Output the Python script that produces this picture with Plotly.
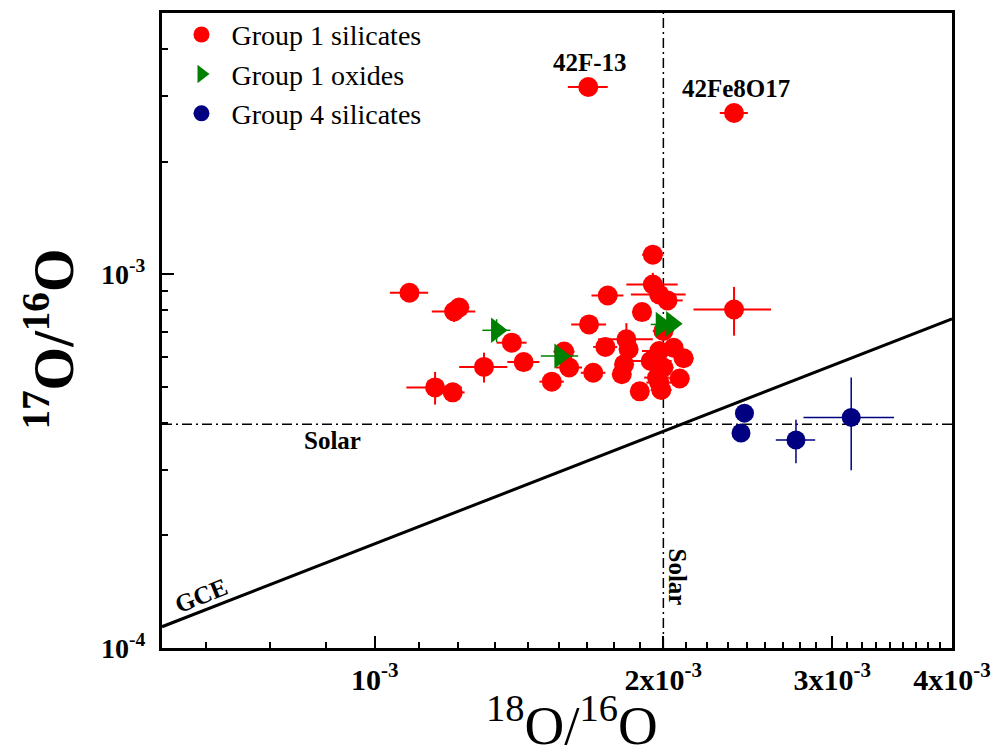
import math
import plotly.graph_objects as go

# ---------------- data ----------------
g1_sil_x = [1.67e-3, 2.37e-3, 1.087e-3, 1.21e-3, 1.225e-3, 1.39e-3, 1.43e-3, 1.30e-3, 1.156e-3, 1.206e-3,
            1.95e-3, 1.95e-3, 1.75e-3, 1.98e-3, 2.02e-3, 1.90e-3, 1.673e-3, 2.37e-3, 2.00e-3, 1.576e-3,
            1.83e-3, 1.74e-3, 1.84e-3, 1.98e-3, 2.05e-3, 2.10e-3, 1.595e-3, 1.82e-3, 1.94e-3, 2.00e-3,
            1.69e-3, 1.81e-3, 1.53e-3, 1.97e-3, 2.08e-3, 1.89e-3, 1.99e-3, 1.98e-3]
g1_sil_y = [3.17e-3, 2.70e-3, 8.92e-4, 7.95e-4, 8.15e-4, 6.56e-4, 5.82e-4, 5.65e-4, 4.98e-4, 4.83e-4,
            1.128e-3, 9.39e-4, 8.77e-4, 8.83e-4, 8.51e-4, 7.92e-4, 7.34e-4, 8.05e-4, 7.05e-4, 6.21e-4,
            6.70e-4, 6.39e-4, 6.30e-4, 6.23e-4, 6.36e-4, 5.96e-4, 5.63e-4, 5.74e-4, 5.86e-4, 5.63e-4,
            5.45e-4, 5.40e-4, 5.16e-4, 5.29e-4, 5.26e-4, 4.86e-4, 4.90e-4, 5.13e-4]
g1_sil_xerr = [0.08e-3, 0.08e-3, 0.05e-3, 0.063e-3, 0.03e-3, 0.05e-3, 0.055e-3, 0.075e-3, 0.077e-3, 0.035e-3,
               0.05e-3, 0.12e-3, 0.067e-3, 0.13e-3, 0.075e-3, 0.045e-3, 0.07e-3, 0.22e-3, 0.05e-3, 0.04e-3,
               0.12e-3, 0.05e-3, 0.04e-3, 0.08e-3, 0.04e-3, 0.05e-3, 0.05e-3, 0.04e-3, 0.10e-3, 0.05e-3,
               0.05e-3, 0.04e-3, 0.045e-3, 0.06e-3, 0.05e-3, 0.04e-3, 0.05e-3, 0.06e-3]
g1_sil_yerr = [0.04e-3, 0.04e-3, 0.02e-3, 0.05e-3, 0.02e-3, 0.02e-3, 0.033e-3, 0.052e-3, 0.05e-3, 0.015e-3,
               0.03e-3, 0.07e-3, 0.02e-3, 0.03e-3, 0.02e-3, 0.03e-3, 0.02e-3, 0.12e-3, 0.03e-3, 0.02e-3,
               0.07e-3, 0.02e-3, 0.02e-3, 0.03e-3, 0.02e-3, 0.02e-3, 0.02e-3, 0.02e-3, 0.02e-3, 0.02e-3,
               0.02e-3, 0.03e-3, 0.02e-3, 0.02e-3, 0.02e-3, 0.02e-3, 0.02e-3, 0.03e-3]

g1_oxi_x = [1.34e-3, 1.56e-3, 1.99e-3, 2.04e-3]
g1_oxi_y = [7.08e-4, 6.04e-4, 7.34e-4, 7.37e-4]
g1_oxi_xerr = [0.045e-3, 0.07e-3, 0.05e-3, 0.03e-3]
g1_oxi_yerr = [0.05e-3, 0.02e-3, 0.03e-3, 0.02e-3]

g4_sil_x = [2.43e-3, 2.41e-3, 2.75e-3, 3.14e-3]
g4_sil_y = [4.25e-4, 3.76e-4, 3.60e-4, 4.14e-4]
g4_sil_xerr = [0.04e-3, 0.04e-3, 0.13e-3, 0.34e-3]
g4_sil_yerr = [0.02e-3, 0.015e-3, 0.048e-3, 0.115e-3]

gce_x = [6.0e-4, 4.0e-3]
gce_y = [1.14e-4, 7.6e-4]

solar_18 = 2.0e-3
solar_17 = 3.97e-4

x_range = [6.0e-4, 4.0e-3]
y_range = [1.0e-4, 5.0e-3]

x_tickvals = [1e-3, 2e-3, 3e-3, 4e-3]
x_ticktext = ["<b>10<sup>-3</sup></b>", "<b>2x10<sup>-3</sup></b>", "<b>3x10<sup>-3</sup></b>", "<b>4x10<sup>-3</sup></b>"]
y_tickvals = [1e-4, 1e-3]
y_ticktext = ["<b>10<sup>-4</sup></b>", "<b>10<sup>-3</sup></b>"]

# minor ticks: 8 linear subdivisions between majors
x_minor = [k / 9 * 1e-3 for k in range(6, 36) if k % 9 != 0]
y_minor = [k * 1e-4 for k in range(2, 10)] + [2e-3, 3e-3, 4e-3]

FONT = "Liberation Serif"
DASHDOT = "10px,4px,2px,4px"

fig = go.Figure()

# GCE line
fig.add_trace(go.Scatter(x=gce_x, y=gce_y, mode="lines", line=dict(color="black", width=3),
                         showlegend=False, hoverinfo="skip"))
# Solar lines
fig.add_trace(go.Scatter(x=[solar_18, solar_18], y=y_range, mode="lines",
                         line=dict(color="black", width=1.5, dash=DASHDOT),
                         showlegend=False, hoverinfo="skip"))
fig.add_trace(go.Scatter(x=x_range, y=[solar_17, solar_17], mode="lines",
                         line=dict(color="black", width=1.5, dash=DASHDOT),
                         showlegend=False, hoverinfo="skip"))

fig.add_trace(go.Scatter(
    x=g1_sil_x, y=g1_sil_y, mode="markers", name="Group 1 silicates",
    marker=dict(symbol="circle", size=20, color="#ff0000"),
    error_x=dict(type="data", array=g1_sil_xerr, color="#ff0000", thickness=2, width=0),
    error_y=dict(type="data", array=g1_sil_yerr, color="#ff0000", thickness=2, width=0)))
fig.add_trace(go.Scatter(
    x=g1_oxi_x, y=g1_oxi_y, mode="markers", name="Group 1 oxides",
    marker=dict(symbol="triangle-right", size=22, color="#008000"),
    error_x=dict(type="data", array=g1_oxi_xerr, color="#008000", thickness=1.5, width=0),
    error_y=dict(type="data", array=g1_oxi_yerr, color="#008000", thickness=1.5, width=0)))
fig.add_trace(go.Scatter(
    x=g4_sil_x, y=g4_sil_y, mode="markers", name="Group 4 silicates",
    marker=dict(symbol="circle", size=19, color="#000080"),
    error_x=dict(type="data", array=g4_sil_xerr, color="#000080", thickness=1.5, width=0),
    error_y=dict(type="data", array=g4_sil_yerr, color="#000080", thickness=1.5, width=0)))

ann_font = dict(family=FONT, size=25, color="black")
annotations = [
    dict(x=math.log10(1.67e-3), y=math.log10(3.17e-3), text="<b>42F-13</b>", showarrow=False,
         yshift=24, xshift=2, font=ann_font),
    dict(x=math.log10(2.37e-3), y=math.log10(2.70e-3), text="<b>42Fe8O17</b>", showarrow=False,
         yshift=25, xshift=2, font=ann_font),
    dict(x=math.log10(8.9e-4), y=math.log10(solar_17), text="<b>Solar</b>", showarrow=False,
         yshift=-16, xshift=6, font=ann_font),
    dict(x=math.log10(solar_18), y=math.log10(1.55e-4), text="<b>Solar</b>", showarrow=False,
         xshift=14, textangle=90, font=ann_font),
    dict(x=math.log10(6.75e-4), y=math.log10(1.27e-4), text="<b>GCE</b>", showarrow=False,
         xshift=-10, yshift=14, textangle=-22, font=ann_font),
    # axis titles
    dict(xref="paper", yref="paper", x=0.519, y=-0.115, xanchor="center", yanchor="middle",
         showarrow=False,
         text="<sup>18</sup>O/<sup>16</sup>O", font=dict(family=FONT, size=55, color="black")),
    dict(xref="paper", yref="paper", x=-0.142, y=0.487, xanchor="center", yanchor="middle",
         showarrow=False, textangle=-90,
         text="<b><sup>17</sup>O/<sup>16</sup>O</b>", font=dict(family=FONT, size=56, color="black")),
]

fig.update_layout(
    width=1000, height=755,
    margin=dict(l=162, r=48, t=10, b=107),
    paper_bgcolor="white", plot_bgcolor="white",
    font=dict(family=FONT, color="black"),
    annotations=annotations,
    legend=dict(x=0.012, y=1.005, xanchor="left", yanchor="top", itemwidth=50,
                font=dict(family=FONT, size=28, color="black"),
                bgcolor="rgba(0,0,0,0)"),
    xaxis=dict(type="log", range=[math.log10(v) for v in x_range],
               showline=True, linewidth=3, linecolor="black", mirror=True,
               showgrid=False, zeroline=False,
               tickmode="array", tickvals=x_tickvals, ticktext=x_ticktext,
               ticks="inside", ticklen=12, tickwidth=2, tickcolor="black",
               tickfont=dict(family=FONT, size=30, color="black"),
               ticklabelstandoff=3,
               minor=dict(tickmode="array", tickvals=x_minor, ticks="inside", ticklen=6,
                          tickwidth=2, tickcolor="black", showgrid=False)),
    yaxis=dict(type="log", range=[math.log10(v) for v in y_range],
               showline=True, linewidth=3, linecolor="black", mirror=True,
               showgrid=False, zeroline=False,
               tickmode="array", tickvals=y_tickvals, ticktext=y_ticktext,
               ticks="inside", ticklen=12, tickwidth=2, tickcolor="black",
               tickfont=dict(family=FONT, size=28, color="black"),
               ticklabelstandoff=8,
               minor=dict(tickmode="array", tickvals=y_minor, ticks="inside", ticklen=6,
                          tickwidth=2, tickcolor="black", showgrid=False)),
)

fig.write_html("out.html")
